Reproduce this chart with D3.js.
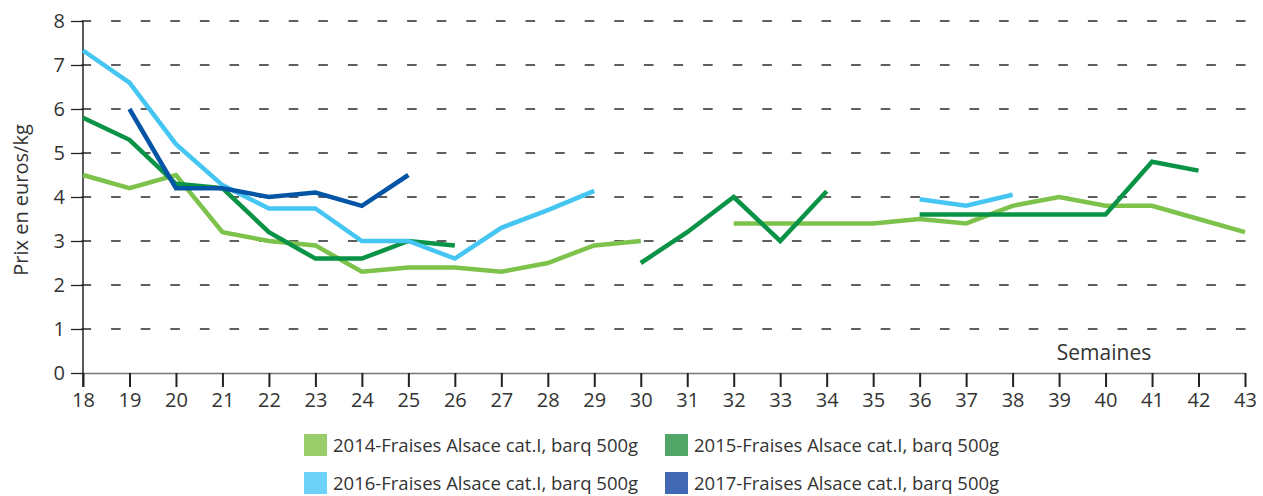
<!DOCTYPE html>
<html>
<head>
<meta charset="utf-8">
<script src="https://cdn.jsdelivr.net/npm/d3@7/dist/d3.min.js"></script>
<style>
  body { margin: 0; background: #fff; }
  svg text { font-family: "Open Sans", sans-serif; fill: #333; }
</style>
</head>
<body>
<div id="chart"></div>
<script>
// semaines 18..43
const weeks = d3.range(18, 44);

const prix2014 = [4.5, 4.2, 4.5, 3.2, 3.0, 2.9, 2.3, 2.4, 2.4, 2.3, 2.5, 2.9, 3.0, null, 3.4, 3.4, 3.4, 3.4, 3.5, 3.4, 3.8, 4.0, 3.8, 3.8, 3.5, 3.2];
const prix2015 = [5.8, 5.3, 4.3, 4.2, 3.2, 2.6, 2.6, 3.0, 2.9, null, null, null, 2.5, 3.2, 4.0, 3.0, 4.13, null, 3.6, 3.6, 3.6, 3.6, 3.6, 4.8, 4.6, null];
const prix2016 = [7.33, 6.6, 5.2, 4.27, 3.74, 3.74, 3.0, 3.0, 2.6, 3.3, 3.7, 4.14, null, null, null, null, null, null, 3.95, 3.8, 4.05, null, null, null, null, null];
const prix2017 = [null, 6.0, 4.2, 4.2, 4.0, 4.1, 3.8, 4.5, null, null, null, null, null, null, null, null, null, null, null, null, null, null, null, null, null, null];

const seriesNames = [
  `2014-Fraises Alsace cat.I, barq 500g`,
  `2015-Fraises Alsace cat.I, barq 500g`,
  `2016-Fraises Alsace cat.I, barq 500g`,
  `2017-Fraises Alsace cat.I, barq 500g`
];
const lineColors = [`#7cc24b`, `#0a9346`, `#45c6f2`, `#0555a6`];
const legendColors = [`#99cd6a`, `#51a566`, `#6dd2f7`, `#4068b3`];
const yTicks = [0, 1, 2, 3, 4, 5, 6, 7, 8];

const allSeries = [prix2014, prix2015, prix2016, prix2017];

const width = 1263;
const height = 496;
const margin = { top: 21, right: 18, bottom: 123, left: 83 };

const svg = d3.select(`#chart`).append(`svg`)
  .attr(`width`, width)
  .attr(`height`, height);

const x = d3.scalePoint()
  .domain(weeks)
  .range([margin.left, width - margin.right]);

const y = d3.scaleLinear()
  .domain([0, 8])
  .range([height - margin.bottom, margin.top]);

// grille pointillée
svg.append(`g`)
  .selectAll(`line`)
  .data(yTicks.filter((d) => d > 0))
  .enter().append(`line`)
    .attr(`x1`, margin.left - 1.5)
    .attr(`x2`, width - margin.right + 1)
    .attr(`y1`, (d) => y(d))
    .attr(`y2`, (d) => y(d))
    .attr(`stroke`, `#2b2b2b`)
    .attr(`stroke-width`, 1.3)
    .attr(`stroke-dasharray`, `9.6,20`);

// axe Y
const yAxis = svg.append(`g`)
  .attr(`transform`, `translate(${margin.left},0)`)
  .call(d3.axisLeft(y).tickValues(yTicks).tickSizeInner(12).tickSizeOuter(0).tickPadding(6));
yAxis.select(`.domain`).remove();
yAxis.selectAll(`.tick line`).attr(`stroke`, `#222`).attr(`stroke-width`, 1.3);
yAxis.selectAll(`.tick text`).style(`font-size`, `20px`).attr(`fill`, `#333`);

// axe X
const xAxis = svg.append(`g`)
  .attr(`transform`, `translate(0,${y(0)})`)
  .call(d3.axisBottom(x).tickSizeInner(14).tickSizeOuter(0).tickPadding(6));
xAxis.select(`.domain`).attr(`stroke`, `#777`).attr(`stroke-width`, 1.5);
xAxis.selectAll(`.tick line`).attr(`stroke`, `#222`).attr(`stroke-width`, 2);
xAxis.selectAll(`.tick text`).style(`font-size`, `20px`).attr(`fill`, `#333`);

svg.append(`line`)
  .attr(`x1`, margin.left).attr(`x2`, margin.left)
  .attr(`y1`, y(8)).attr(`y2`, y(0) + 14)
  .attr(`stroke`, `#222`)
  .attr(`stroke-width`, 1.5);

// courbes
const line = d3.line()
  .defined((d) => d.v !== null)
  .x((d) => x(d.w))
  .y((d) => y(d.v));

svg.append(`g`)
  .selectAll(`path`)
  .data(allSeries)
  .enter().append(`path`)
    .attr(`d`, (s) => line(s.map((v, i) => ({ w: weeks[i], v }))))
    .attr(`fill`, `none`)
    .attr(`stroke`, (s, i) => lineColors[i])
    .attr(`stroke-width`, 4.5)
    .attr(`stroke-linejoin`, `miter`);

// titres
svg.append(`text`)
  .attr(`transform`, `translate(28,${(y(0) + y(8)) / 2 + 3}) rotate(-90)`)
  .attr(`text-anchor`, `middle`)
  .style(`font-size`, `20px`)
  .text(`Prix en euros/kg`);

svg.append(`text`)
  .attr(`x`, 1104)
  .attr(`y`, 360)
  .attr(`text-anchor`, `middle`)
  .style(`font-size`, `21px`)
  .text(`Semaines`);

// légende
const legendPos = [[304, 434], [665, 434], [304, 472], [665, 472]];
const legend = svg.append(`g`)
  .selectAll(`g`)
  .data(seriesNames)
  .enter().append(`g`)
    .attr(`transform`, (d, i) => `translate(${legendPos[i][0]},${legendPos[i][1]})`);

legend.append(`rect`)
  .attr(`width`, 23)
  .attr(`height`, 22)
  .attr(`fill`, (d, i) => legendColors[i]);

legend.append(`text`)
  .attr(`x`, 29)
  .attr(`y`, 17.5)
  .style(`font-size`, `18.5px`)
  .text((d) => d);
</script>
</body>
</html>
